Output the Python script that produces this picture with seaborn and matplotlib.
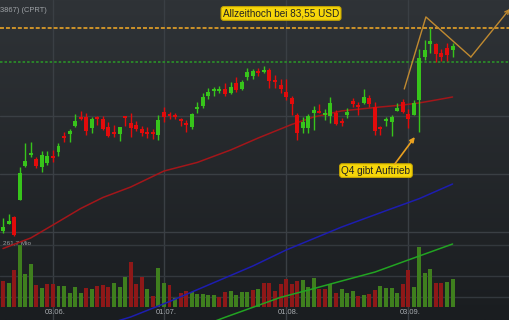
import numpy as np
import matplotlib
matplotlib.use("Agg")
import matplotlib.pyplot as plt
import matplotlib.transforms as mtransforms
from matplotlib.colors import LinearSegmentedColormap
import seaborn as sns

# ---------------- data ----------------
opens = [66.05, 66.65, 67.26, 68.72, 71.65, 72.60, 72.26, 71.57, 71.91, 72.52,
         72.86, 74.24, 74.41, 75.10, 75.88, 75.88, 74.93, 75.88, 75.71, 75.02,
         74.59, 74.41, 75.88, 75.36, 75.19, 74.84, 74.59, 74.59, 74.33, 76.31,
         76.14, 76.05, 75.71, 75.36, 75.02, 76.57, 76.83, 77.69, 78.12, 78.12,
         78.29, 77.95, 78.81, 78.29, 79.33, 79.41, 79.84, 79.76, 79.93, 79.07,
         78.64, 78.03, 77.52, 76.05, 74.93, 74.93, 76.22, 76.31, 76.05, 75.96,
         76.22, 75.53, 76.05, 77.26, 76.91, 77.09, 77.52, 76.74, 75.02, 75.53,
         75.45, 76.40, 77.17, 76.14, 76.05, 77.34, 81.05, 82.17, 82.17, 81.40,
         81.83, 81.65]
closes = [66.40, 66.91, 65.71, 71.05, 72.09, 72.77, 71.65, 72.60, 72.52, 72.34,
          73.38, 74.07, 74.67, 75.53, 75.71, 74.67, 75.71, 75.71, 74.84, 74.24,
          74.41, 75.02, 75.79, 74.93, 74.84, 74.50, 74.41, 74.41, 75.62, 75.88,
          75.96, 75.88, 75.53, 75.19, 76.14, 76.74, 77.60, 78.03, 78.29, 78.29,
          77.86, 78.46, 78.21, 78.90, 79.76, 79.84, 79.67, 79.93, 78.98, 78.90,
          78.29, 77.60, 77.00, 74.50, 75.45, 75.96, 76.48, 76.22, 76.22, 77.09,
          75.27, 75.36, 76.31, 77.00, 76.74, 77.60, 77.00, 74.67, 74.84, 75.71,
          75.88, 76.65, 76.31, 75.71, 77.09, 80.96, 81.65, 82.43, 81.31, 81.05,
          81.22, 82.00]
highs = [67.17, 67.52, 67.34, 71.57, 73.64, 73.72, 72.43, 72.95, 72.95, 73.03,
         73.64, 74.59, 74.84, 76.14, 76.40, 76.22, 75.88, 75.96, 75.96, 75.45,
         75.19, 75.02, 75.96, 76.22, 75.53, 75.10, 75.02, 74.84, 76.05, 76.74,
         76.31, 76.22, 75.79, 75.62, 76.22, 77.17, 77.95, 78.38, 78.46, 78.55,
         78.81, 78.90, 79.33, 79.07, 80.10, 80.02, 80.10, 80.27, 80.10, 79.50,
         79.15, 79.15, 77.69, 76.22, 75.88, 76.14, 76.83, 77.00, 76.57, 77.60,
         76.48, 75.79, 76.65, 77.52, 77.17, 78.29, 77.77, 77.17, 75.10, 75.88,
         76.05, 77.09, 77.43, 76.57, 77.34, 81.74, 82.52, 83.55, 82.26, 81.74,
         82.26, 82.26]
lows = [65.88, 66.65, 65.62, 68.72, 71.57, 72.43, 71.48, 71.14, 71.74, 72.00,
        72.52, 73.72, 73.72, 75.02, 75.62, 74.33, 74.50, 75.19, 74.76, 74.15,
        74.15, 73.81, 75.10, 74.15, 74.67, 74.24, 74.07, 73.98, 73.90, 75.45,
        75.71, 75.71, 75.10, 74.59, 74.84, 76.22, 76.65, 77.43, 77.69, 77.95,
        77.69, 77.86, 78.03, 78.21, 79.07, 79.15, 79.41, 79.67, 78.38, 78.38,
        77.95, 77.34, 76.05, 73.90, 74.50, 74.50, 74.76, 76.22, 75.62, 75.36,
        75.19, 75.10, 75.79, 76.74, 76.05, 77.00, 76.74, 74.33, 74.33, 75.10,
        74.24, 76.40, 76.22, 74.93, 76.05, 74.59, 80.79, 81.40, 80.62, 80.71,
        80.71, 81.05]
volumes = [109.7, 102.5, 156.1, 261.7, 139.3, 180.2, 91.6, 80.2, 97.1, 97.1,
           87.4, 87.4, 59.1, 84.4, 60.4, 81.5, 74.7, 88.6, 94.1, 84.4,
           100.0, 85.7, 127.9, 188.6, 98.3, 127.9, 74.7, 46.4, 163.3, 100.0,
           92.8, 36.7, 59.1, 68.8, 63.3, 56.1, 56.1, 50.6, 50.6, 40.9,
           64.6, 66.3, 49.4, 63.3, 63.3, 71.7, 74.7, 100.0, 101.3, 68.8,
           98.3, 116.9, 98.3, 108.5, 112.7, 83.1, 122.4, 76.0, 76.0, 95.8,
           57.8, 74.7, 57.8, 68.8, 46.4, 50.6, 54.9, 71.7, 88.6, 78.9,
           78.9, 60.4, 97.1, 156.1, 85.7, 251.9, 142.2, 159.1, 102.5, 100.0,
           106.8, 118.2]
volume_up = [0, 1, 0, 1, 1, 1, 0, 1, 0, 0,
             1, 1, 1, 1, 1, 0, 1, 0, 0, 0,
             1, 1, 1, 0, 0, 0, 1, 0, 1, 1,
             0, 1, 0, 0, 1, 1, 1, 1, 1, 0,
             0, 1, 1, 1, 1, 0, 1, 0, 0, 0,
             0, 0, 0, 0, 1, 1, 1, 0, 0, 1,
             0, 1, 1, 1, 0, 1, 0, 0, 1, 1,
             1, 1, 0, 0, 1, 1, 1, 1, 0, 0,
             1, 1]

tick_idx = [9, 29, 51, 73]
tick_labels = ["03.06.", "01.07.", "01.08.", "03.09."]

ma_red_idx = [0, 5, 9, 14, 18, 23, 29, 35, 41, 46, 52, 56, 61, 68, 72, 75, 78, 81]
ma_red = [64.54, 65.45, 66.57, 67.99, 68.94, 69.84, 71.22, 71.96, 73.03, 74.07,
          75.23, 75.88, 76.40, 76.74, 76.91, 77.09, 77.34, 77.60]
ma_blue_idx = [20, 23, 30, 45, 51, 61, 69, 75, 81]
ma_blue = [58.20, 58.64, 59.97, 63.03, 64.41, 66.39, 67.80, 68.84, 70.10]
ma_green_idx = [38, 40, 50, 55, 61, 67, 73, 81]
ma_green = [58.25, 58.61, 60.33, 60.96, 61.74, 62.51, 63.55, 64.93]

ath = 83.55
support = 80.62
proj_x = [72.3, 76.2, 84.3, 91.3]
proj_y = [78.29, 84.50, 81.05, 85.19]
vol_max_label = "261,7 Mio"
vol_max = 261.7

# ---------------- figure ----------------
sns.set_theme(style="dark")
plt.rcParams['font.family'] = ['Liberation Sans', 'DejaVu Sans']

W, H, DPI = 510, 320, 100
fig = plt.figure(figsize=(W / DPI, H / DPI), dpi=DPI)

x_lim = (-0.54, 91.35)
price_lim = (58.38, 85.96)
vol_lim = (-54.9, 1295.5)

bg = fig.add_axes([0, 0, 1, 1], zorder=0)
vax = fig.add_axes([0, 0, 1, 1], zorder=1)
ax = fig.add_axes([0, 0, 1, 1], zorder=2)
for a in (bg, vax, ax):
    a.set_xlim(*x_lim)
    for s in a.spines.values():
        s.set_visible(False)
    a.tick_params(left=False, bottom=False, labelleft=False, labelbottom=False,
                  length=0)
bg.set_ylim(*price_lim)
ax.set_ylim(*price_lim)
vax.set_ylim(*vol_lim)
vax.patch.set_alpha(0)
ax.patch.set_alpha(0)

grad = np.linspace(0, 1, 256).reshape(-1, 1)
cmap = LinearSegmentedColormap.from_list("bg", ["#2f3337", "#1a1d20"])
bg.imshow(grad, cmap=cmap, extent=(x_lim[0], x_lim[1], price_lim[0], price_lim[1]),
          aspect="auto", origin="upper", zorder=0)
bg.set_xticks(tick_idx)
bg.set_yticks([66, 71, 76])
bg.grid(True, color="#3a3f44", lw=1)
bg.set_axisbelow(True)

vax.set_xticks([])
vax.set_yticks([vol_max * 0.16, vol_max / 2, vol_max])
vax.grid(True, axis="y", color="#33383d", lw=1)
vax.set_axisbelow(True)

# volume bars
idx = np.arange(len(opens))
vcol = np.where(np.array(volume_up) == 1, "#3f7f1e", "#8e1818")
vax.bar(idx, volumes, width=0.72, color=vcol, lw=0, zorder=2)
vax.text(0.0, vol_max, vol_max_label, ha="left", va="bottom", fontsize=4.6,
         color="#9a9ea2", zorder=3)

# moving averages
sns.lineplot(x=ma_red_idx, y=ma_red, ax=ax, color="#a3161a", lw=1.1, zorder=2.5)
sns.lineplot(x=ma_blue_idx, y=ma_blue, ax=ax, color="#1d1db0", lw=1.1, zorder=2.5)
sns.lineplot(x=ma_green_idx, y=ma_green, ax=ax, color="#22a422", lw=1.1, zorder=2.5)

# candles
o = np.array(opens)
c = np.array(closes)
up = c >= o
ccol = np.where(up, "#37c41b", "#e20b0b")
ax.vlines(idx, lows, highs, colors=ccol, lw=1, zorder=3)
body = np.maximum(np.abs(c - o), 0.15)
ax.bar(idx, body, bottom=np.minimum(o, c), width=0.72, color=ccol, lw=0, zorder=4)

# horizontal levels
ax.axhline(ath, color="#d99a28", lw=1.3, ls=(0, (2.2, 1.1)), zorder=2)
ax.axhline(support, color="#2a8a2a", lw=1.3, ls=(0, (1.4, 1.1)), zorder=2)

# projection zig-zag
ax.plot(proj_x[:-1], proj_y[:-1], color="#c08a30", lw=1.0, zorder=5)
ax.annotate("", xy=(proj_x[-1], proj_y[-1]), xytext=(proj_x[-2], proj_y[-2]),
            arrowprops=dict(arrowstyle="->", color="#c08a30", lw=1.0,
                            shrinkA=0, shrinkB=0, mutation_scale=7), zorder=5)

# annotation boxes
ax.text(50.1, 84.80, "Allzeithoch bei 83,55 USD", ha="center", va="center",
        fontsize=7.2, color="#222222", zorder=6,
        bbox=dict(boxstyle="round,pad=0.18,rounding_size=0.25", fc="#f6d60a",
                  ec="#c9a800", lw=0.8))
ax.text(67.2, 71.26, "Q4 gibt Auftrieb", ha="center", va="center",
        fontsize=7.2, color="#222222", zorder=6,
        bbox=dict(boxstyle="round,pad=0.18,rounding_size=0.25", fc="#f6d60a",
                  ec="#c9a800", lw=0.8))
ax.annotate("", xy=(74.2, 74.15), xytext=(70.6, 71.83),
            arrowprops=dict(arrowstyle="-|>", color="#e8a020", lw=1.2,
                            shrinkA=0, shrinkB=0, mutation_scale=7), zorder=6)

# title fragment
fig.text(0.5 / W, 1 - 10 / H, "3867) (CPRT)", ha="left", va="center",
         fontsize=5.4, color="#a0a4a8")

# date labels
off = mtransforms.ScaledTranslation(2.5 / DPI, 0, fig.dpi_scale_trans)
trans = mtransforms.blended_transform_factory(ax.transData, ax.transAxes) + off
for i, lab in zip(tick_idx, tick_labels):
    ax.text(i, 8 / H, lab, transform=trans, ha="center", va="center",
            fontsize=5.4, color="#a9adb1", zorder=6)

fig.savefig("out.png", dpi=DPI)
